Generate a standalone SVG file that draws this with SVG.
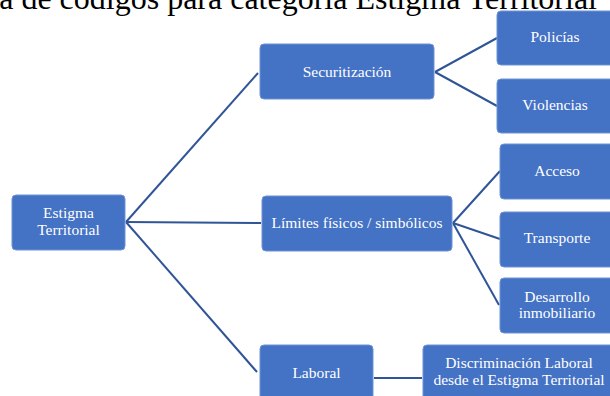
<svg xmlns="http://www.w3.org/2000/svg" width="610" height="396" viewBox="0 0 610 396">
  <style>
    .box { fill: #4472C4; stroke: #6F93D6; stroke-width: 1; }
    .lbl { fill: #FFFFFF; font-family: "Liberation Serif", "Times New Roman", serif; font-size: 15.5px; text-anchor: middle; }
    .title { fill: #000000; font-family: "Liberation Serif", "Times New Roman", serif; font-size: 32px; text-anchor: end; }
    .conn line { stroke: #2F5597; stroke-width: 2; fill: none; }
  </style>
  <rect width="610" height="396" fill="#FFFFFF"/>

  <text class="title" x="597" y="9">a de códigos para categoría Estigma Territorial</text>

  <g id="connectors" class="conn">
    <line x1="126" y1="222" x2="258" y2="73"/>
    <line x1="126" y1="222" x2="261" y2="223"/>
    <line x1="126" y1="222" x2="257" y2="372"/>
    <line x1="435" y1="72" x2="497" y2="38"/>
    <line x1="435" y1="72" x2="497" y2="106"/>
    <line x1="453" y1="223" x2="500" y2="171"/>
    <line x1="453" y1="223" x2="500" y2="239"/>
    <line x1="453" y1="223" x2="499" y2="305"/>
    <line x1="374" y1="378" x2="422" y2="378"/>
  </g>

  <g id="estigma">
    <rect class="box" x="12" y="195" width="113" height="55" rx="4"/>
    <text class="lbl" x="68.5" y="218">Estigma</text>
    <text class="lbl" x="68.5" y="235">Territorial</text>
  </g>

  <g id="securitizacion">
    <rect class="box" x="260" y="44" width="174" height="55" rx="4"/>
    <text class="lbl" x="347" y="77">Securitización</text>
  </g>

  <g id="limites">
    <rect class="box" x="262" y="196" width="190" height="55" rx="4"/>
    <text class="lbl" x="357" y="228">Límites  físicos / simbólicos</text>
  </g>

  <g id="laboral">
    <rect class="box" x="260" y="345" width="113" height="60" rx="4"/>
    <text class="lbl" x="316.5" y="378">Laboral</text>
  </g>

  <g id="policias">
    <rect class="box" x="497" y="11" width="124" height="54" rx="4"/>
    <text class="lbl" x="555" y="42">Policías</text>
  </g>

  <g id="violencias">
    <rect class="box" x="497" y="79" width="124" height="54" rx="4"/>
    <text class="lbl" x="555" y="110">Violencias</text>
  </g>

  <g id="acceso">
    <rect class="box" x="500" y="144" width="124" height="55" rx="4"/>
    <text class="lbl" x="557" y="176">Acceso</text>
  </g>

  <g id="transporte">
    <rect class="box" x="500" y="212" width="124" height="55" rx="4"/>
    <text class="lbl" x="557" y="243">Transporte</text>
  </g>

  <g id="desarrollo">
    <rect class="box" x="500" y="278" width="124" height="55" rx="4"/>
    <text class="lbl" x="557" y="302">Desarrollo</text>
    <text class="lbl" x="557" y="318">inmobiliario</text>
  </g>

  <g id="discriminacion">
    <rect class="box" x="423" y="345" width="194" height="60" rx="4"/>
    <text class="lbl" x="519" y="368">Discriminación  Laboral</text>
    <text class="lbl" x="519" y="385">desde el Estigma Territorial</text>
  </g>
</svg>
